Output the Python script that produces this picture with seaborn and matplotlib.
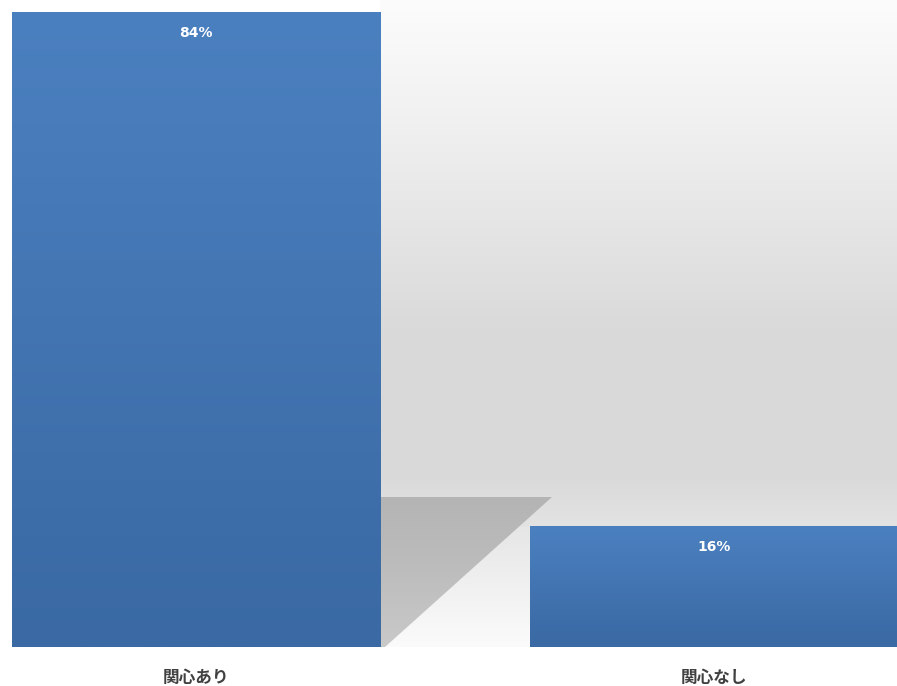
import numpy as np
import pandas as pd
import matplotlib
matplotlib.use("Agg")
import matplotlib.pyplot as plt
import seaborn as sns
from matplotlib.colors import LinearSegmentedColormap
from matplotlib.patches import Polygon

categories = ["関心あり", "関心なし"]
values = [84, 16]
value_labels = ["84%", "16%"]

sns.set_theme(style="white")
plt.rcParams['font.family'] = ['Noto Sans CJK JP', 'DejaVu Sans']

W, H = 897, 686
fig = plt.figure(figsize=(W / 100, H / 100), dpi=100)
ax = fig.add_axes([0, 39 / H, 1, 647 / H])

df = pd.DataFrame({"cat": categories, "val": values})
sns.barplot(data=df, x="cat", y="val", color="#4a7ebe", width=0.71, ax=ax,
            saturation=1, zorder=3)

pxu = 368 / 0.71
x0 = -0.355 - 12 / pxu
ax.set_xlim(x0, x0 + W / pxu)
ytop = max(values) * 647 / 635
ax.set_ylim(0, ytop)
ypx = 647 / ytop  # px per unit

def px2d(px, py):
    return x0 + px / pxu, (647 - py) / ypx

# background wall gradient
wall_cmap = LinearSegmentedColormap.from_list(
    "wall", [(0, "#fcfcfc"), (0.2, "#f2f2f2"), (0.45, "#e4e4e4"),
             (0.62, "#dadada"), (0.9, "#d9d9d9"), (1.0, "#e3e3e3")])
xl, yt = px2d(380, 0)
xr, yb = px2d(897, 527)
grad = np.linspace(0, 1, 256).reshape(-1, 1)
ax.imshow(grad, cmap=wall_cmap, extent=[xl, xr, yb, yt], aspect="auto",
          zorder=0, origin="upper")
# floor gradient
floor_cmap = LinearSegmentedColormap.from_list("floor", ["#e6e6e6", "#fbfbfb"])
xl2, yt2 = px2d(380, 527)
xr2, yb2 = px2d(897, 647)
ax.imshow(grad, cmap=floor_cmap, extent=[xl2, xr2, yb2, yt2], aspect="auto",
          zorder=0, origin="upper")

# shadow polygon
pts = [px2d(380, 497), px2d(552, 497), px2d(385, 647), px2d(380, 647)]
poly = Polygon(pts, closed=True, facecolor="none", edgecolor="none", zorder=1)
ax.add_patch(poly)
sh_cmap = LinearSegmentedColormap.from_list("sh", ["#b4b4b4", "#bdbdbd", "#c9c9c9"])
sx0, sy0 = px2d(380, 497)
sx1, sy1 = px2d(552, 647)
im = ax.imshow(grad, cmap=sh_cmap, extent=[sx0, sx1, sy1, sy0], aspect="auto",
               zorder=1, origin="upper")
im.set_clip_path(poly)

# bar gradients
bar_cmap = LinearSegmentedColormap.from_list("bar", ["#4b80c0", "#3a69a3"])
for p in ax.patches:
    if not isinstance(p, matplotlib.patches.Rectangle):
        continue
    bx, by, bw, bh = p.get_x(), p.get_y(), p.get_width(), p.get_height()
    if bh <= 0:
        continue
    g = ax.imshow(grad, cmap=bar_cmap, extent=[bx, bx + bw, by, by + bh],
                  aspect="auto", zorder=4, origin="upper")
    g.set_clip_path(p)
    p.set_edgecolor("none")

for i, (v, lab) in enumerate(zip(values, value_labels)):
    ax.annotate(lab, (i, v), xytext=(0, -21), textcoords="offset pixels",
                ha="center", va="center", color="white", fontsize=10,
                fontweight="bold", zorder=6, family=['DejaVu Sans'])

ax.set_xlim(x0, x0 + W / pxu)
ax.set_ylim(0, ytop)
ax.set_xlabel("")
ax.set_ylabel("")
ax.set_yticks([])
ax.tick_params(axis="x", length=0, pad=16, labelsize=12, labelcolor="#404040")
for lbl in ax.get_xticklabels():
    lbl.set_fontweight("bold")
for s in ax.spines.values():
    s.set_visible(False)
ax.set_facecolor("none")
fig.patch.set_facecolor("white")

fig.savefig("out.png", dpi=100)
